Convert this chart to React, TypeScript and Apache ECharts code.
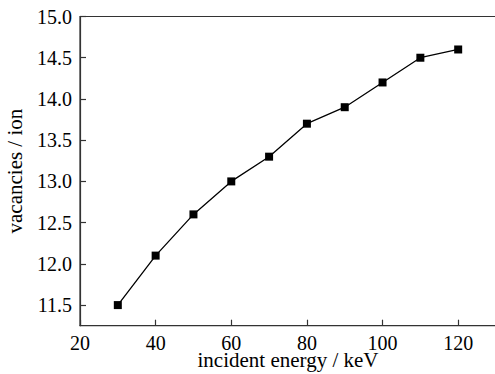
import React, { useEffect, useRef } from "react";
import * as echarts from "echarts";

const energies = [30, 40, 50, 60, 70, 80, 90, 100, 110, 120];
const vacancies = [11.5, 12.1, 12.6, 13.0, 13.3, 13.7, 13.9, 14.2, 14.5, 14.6];
const xTicks = [20, 40, 60, 80, 100, 120];
const yTicks = [11.5, 12.0, 12.5, 13.0, 13.5, 14.0, 14.5, 15.0];

const FONT = "Liberation Serif";

export default function App() {
  const ref = useRef<HTMLDivElement>(null);
  useEffect(() => {
    document.body.style.margin = "0";
    const chart = echarts.init(ref.current!, null, { renderer: "svg" });
    const tickRich = { t: { fontFamily: FONT, fontSize: 20, color: "#000" } };
    chart.setOption({
      animation: false,
      backgroundColor: "#fff",
      textStyle: { fontFamily: FONT },
      grid: {
        left: 80,
        top: 16.5,
        right: -1,
        bottom: 48.3,
        containLabel: false,
        outerBoundsMode: "none",
        show: true,
        borderColor: "#333",
        borderWidth: 1.2,
      },
      xAxis: {
        type: "value",
        min: 20,
        max: 130,
        name: "incident energy / keV",
        nameLocation: "middle",
        nameGap: 24,
        nameMoveOverlap: false,
        nameTextStyle: { fontFamily: FONT, fontSize: 21, color: "#000" },
        axisLine: { show: true, lineStyle: { color: "#333", width: 1.2 } },
        axisTick: { show: true, inside: true, length: 6, customValues: xTicks, lineStyle: { color: "#333", width: 1.2 } },
        axisLabel: {
          customValues: xTicks,
          fontFamily: FONT,
          fontSize: 20,
          color: "#000",
          margin: 7,
          formatter: (v: number) => "{t|" + String(v) + "}",
          rich: tickRich,
        },
        splitLine: { show: false },
      },
      yAxis: {
        type: "value",
        min: 11.25,
        max: 15.0,
        name: "vacancies / ion",
        nameLocation: "middle",
        nameGap: 55,
        nameMoveOverlap: false,
        nameTextStyle: { fontFamily: FONT, fontSize: 21, color: "#000" },
        axisLine: { show: true, lineStyle: { color: "#333", width: 1.2 } },
        axisTick: { show: true, inside: true, length: 6, customValues: yTicks, lineStyle: { color: "#333", width: 1.2 } },
        axisLabel: {
          customValues: yTicks,
          fontFamily: FONT,
          fontSize: 20,
          color: "#000",
          margin: 8,
          formatter: (v: number) => "{t|" + v.toFixed(1) + "}",
          rich: tickRich,
        },
        splitLine: { show: false },
      },
      series: [
        {
          type: "line",
          data: energies.map((e, i) => [e, vacancies[i]]),
          symbol: "rect",
          symbolSize: 8,
          itemStyle: { color: "#000" },
          lineStyle: { color: "#000", width: 1.3 },
        },
      ],
    });
    return () => chart.dispose();
  }, []);
  return <div ref={ref} style={{ width: 495, height: 374, position: "absolute", left: 0, top: 0 }} />;
}
